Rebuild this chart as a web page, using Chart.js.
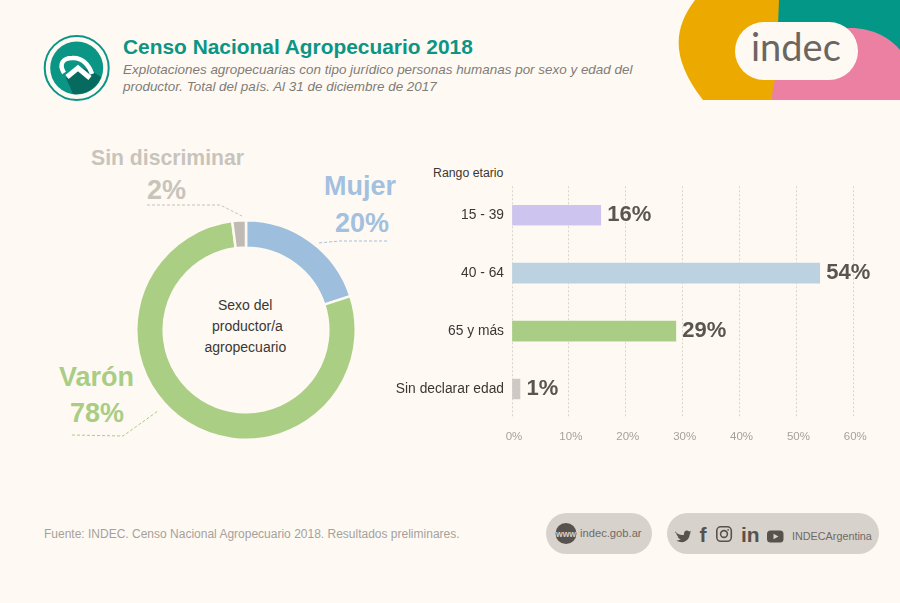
<!DOCTYPE html>
<html lang="es">
<head>
<meta charset="utf-8">
<title>Censo Nacional Agropecuario 2018</title>
<script src="https://cdn.jsdelivr.net/npm/chart.js@4"></script>
<style>
  html, body { margin: 0; padding: 0; background: #fefaf3; }
  body { width: 900px; height: 603px; position: relative; overflow: hidden; font-family: "Liberation Sans", Arial, sans-serif; }
  canvas, svg, .t { position: absolute; }
  .t { white-space: nowrap; line-height: 1; }
  .big { font-weight: bold; }
</style>
</head>
<body>
<svg style="left:0;top:0" width="900" height="603" viewBox="0 0 900 603">
  <!-- esquina -->
  <path d="M778,0 H900 V60 H778 Z" fill="#039788"/>
  <path d="M695,0 C672,30 672,60 703,100 H775 L779,0 Z" fill="#ecaa00"/>
  <path d="M772,100 C772,60 805,28 850,28 C873,28 890,38 900,50 V100 Z" fill="#ec80a3"/>
  <rect x="735" y="22" width="123" height="58" rx="29" fill="#fefaf3"/>
  <!-- logo censo -->
  <circle cx="76.7" cy="68" r="32" fill="none" stroke="#0b9585" stroke-width="2"/>
  <circle cx="76.7" cy="68" r="26.5" fill="#0b9585"/>
  <path d="M66,78 L73,94 A26.5,26.5 0 0 0 101,77 L93,72 L78,66 Z" fill="#066a5e"/>
  <path d="M64,73 C58,63 64,58 72,58 C82,57 89,65 92,74" fill="none" stroke="#fff" stroke-width="4.5"/>
  <path d="M67,77 L78,68 L90,78" fill="none" stroke="#fff" stroke-width="5"/>
  <!-- lineas de las etiquetas -->
  <polyline points="147,205 220,205 242,216" fill="none" stroke="#c6c2ba" stroke-dasharray="3 2"/>
  <polyline points="387,241 340,241 318,243" fill="none" stroke="#a3c0df" stroke-dasharray="3 2"/>
  <polyline points="72,435 123,436 158,411" fill="none" stroke="#a9cd85" stroke-dasharray="3 2"/>
  <!-- pie -->
  <rect x="546" y="513" width="106" height="41" rx="20.5" fill="#d8d2cc"/>
  <rect x="667" y="513" width="212" height="41" rx="20.5" fill="#d8d2cc"/>
  <circle cx="566" cy="533.5" r="10.5" fill="#57524d"/>
  <path transform="translate(675,530) scale(.64,.72) translate(-675,-527)" d="M675,530 C680,533 684,534 689,534 C688,529 693,526 697,529 L700,528 L698,531 L700,530.5 L698,533 C698,539 692,544 686,544 C683,544 680,543 677,542 C680,542 682,541 684,540 C681,539 680,538 679,536 L681,536 C678,535 677,533 677,531 L679,532 C676,530 676,528 675,530 Z" fill="#57524d"/>
  <rect x="716.8" y="526.8" width="14.5" height="14.5" rx="4" fill="none" stroke="#57524d" stroke-width="1.6"/>
  <circle cx="724" cy="534" r="3.4" fill="none" stroke="#57524d" stroke-width="1.6"/>
  <circle cx="728.1" cy="529.8" r="0.9" fill="#57524d"/>
  <rect x="767" y="530.5" width="16.5" height="12" rx="3.5" fill="#57524d"/>
  <path d="M773.5,533.8 L778.5,536.5 L773.5,539.2 Z" fill="#d8d2cc"/>
</svg>

<div class="t big" style="left:123px;top:37px;font-size:20.9px;color:#0b9585">Censo Nacional Agropecuario 2018</div>
<div class="t" style="left:123px;top:61px;font-size:13.45px;line-height:17px;font-style:italic;color:#807c78">Explotaciones agropecuarias con tipo jurídico personas humanas por sexo y edad del<br>productor. Total del país. Al 31 de diciembre de 2017</div>
<div class="t" style="left:751px;top:27px;font-family:Lato;font-size:38px;color:#6b6661">indec</div>

<div class="t big" style="left:91px;top:147px;font-size:21.2px;color:#c8c4bc">Sin discriminar</div>
<div class="t big" style="left:147px;top:177px;font-size:27px;color:#c8c4bc">2%</div>
<div class="t big" style="left:324px;top:173px;font-size:27px;color:#a3c0df">Mujer</div>
<div class="t big" style="left:335px;top:210px;font-size:27px;color:#a3c0df">20%</div>
<div class="t big" style="left:59px;top:364px;font-size:27px;color:#a9cd85">Varón</div>
<div class="t big" style="left:70px;top:400px;font-size:27px;color:#a9cd85">78%</div>

<div class="t" style="left:218px;top:298px;font-size:14px;color:#3a3735">Sexo del</div>
<div class="t" style="left:212px;top:319px;font-size:14px;color:#3a3735">productor/a</div>
<div class="t" style="left:204.5px;top:340px;font-size:14px;color:#3a3735">agropecuario</div>

<div class="t" style="left:433px;top:167px;font-size:12.3px;color:#3a3735">Rango etario</div>

<div class="t" style="left:44px;top:528px;font-size:12px;color:#a5a19c">Fuente: INDEC. Censo Nacional Agropecuario 2018. Resultados preliminares.</div>
<div class="t big" style="left:556px;top:529.5px;font-size:8.6px;color:#d8d2cc">www</div>
<div class="t" style="left:580px;top:528px;font-size:11.2px;color:#6f6a65">indec.gob.ar</div>
<div class="t big" style="left:699.5px;top:524px;font-size:21px;color:#57524d">f</div>
<div class="t big" style="left:741px;top:524px;font-size:21px;color:#57524d">in</div>
<div class="t" style="left:792px;top:531px;font-size:10.8px;color:#6f6a65">INDECArgentina</div>

<canvas id="dona" style="left:135px;top:218.5px" width="222" height="222"></canvas>
<canvas id="barras" style="left:390px;top:170px" width="490" height="275"></canvas>

<script>
const sexos = ['Mujer', 'Varón', 'Sin discriminar'];
const sexoValores = [20, 78, 2];
const sexoColores = ['#9dbedc', '#abce85', '#bfbab3'];

const rangos = ['15 - 39', '40 - 64', '65 y más', 'Sin declarar edad'];
const rangoValores = [15.6, 54.1, 28.8, 1.4];
const rangoEtiquetas = ['16%', '54%', '29%', '1%'];
const rangoColores = ['#cdc5ef', '#bdd2e0', '#a9cd85', '#cfc9c6'];

const fondo = '#fefaf3';
const fuente = '"Liberation Sans", Arial, sans-serif';

new Chart(document.getElementById('dona'), {
  type: 'doughnut',
  data: {
    labels: sexos,
    datasets: [{
      data: sexoValores,
      backgroundColor: sexoColores,
      borderColor: fondo,
      borderWidth: 2.5
    }]
  },
  options: {
    responsive: false,
    animation: false,
    cutout: '75%',
    plugins: { legend: { display: false }, tooltip: { enabled: false } }
  }
});

// etiquetas al final de cada barra
const etiquetasBarras = {
  id: 'etiquetasBarras',
  afterDatasetsDraw(chart) {
    const ctx = chart.ctx;
    ctx.save();
    ctx.font = 'bold 22px ' + fuente;
    ctx.fillStyle = '#5a5550';
    ctx.textBaseline = 'middle';
    chart.getDatasetMeta(0).data.forEach((bar, i) => {
      ctx.fillText(rangoEtiquetas[i], bar.x + 6.5, bar.y);
    });
    ctx.restore();
  }
};

new Chart(document.getElementById('barras'), {
  type: 'bar',
  data: {
    labels: rangos,
    datasets: [{
      data: rangoValores,
      backgroundColor: rangoColores,
      barThickness: 20
    }]
  },
  options: {
    indexAxis: 'y',
    responsive: false,
    animation: false,
    layout: { padding: { top: 6, right: 26.7, left: 0, bottom: 0 } },
    scales: {
      x: {
        min: 0,
        max: 60,
        afterFit: s => { s.height = 27; },
        border: { display: false, dash: [2, 2] },
        grid: { color: '#d9d5cc', drawTicks: false },
        ticks: {
          stepSize: 10,
          padding: 12,
          maxRotation: 0,
          labelOffset: 2,
          color: '#a5a19c',
          font: { family: fuente, size: 11.5 },
          callback: v => v + '%'
        }
      },
      y: {
        afterFit: s => { s.width = 122; },
        border: { display: false },
        grid: { display: false, drawTicks: false },
        ticks: {
          padding: 8,
          color: '#3a3735',
          font: { family: fuente, size: 13.8 }
        }
      }
    },
    plugins: { legend: { display: false }, tooltip: { enabled: false } }
  },
  plugins: [etiquetasBarras]
});
</script>
</body>
</html>
